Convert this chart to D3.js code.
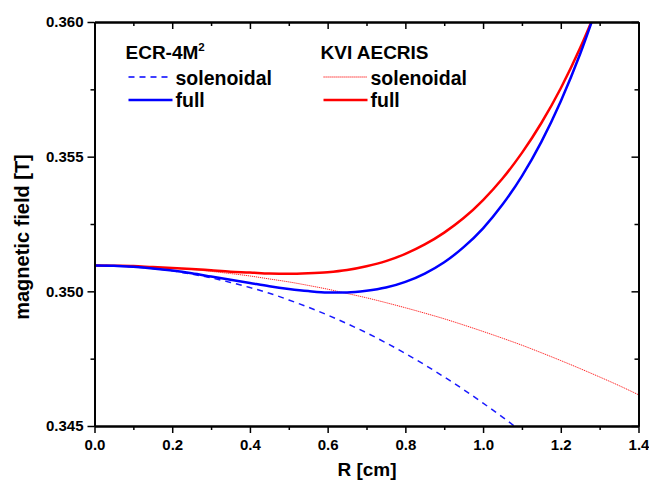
<!DOCTYPE html>
<html>
<head>
<meta charset="utf-8">
<script src="https://cdn.jsdelivr.net/npm/d3@7"></script>
<style>
  html, body { margin: 0; padding: 0; background: #fff; }
  svg { display: block; font-family: "Liberation Sans", Arial, Helvetica, sans-serif; font-weight: bold; }
</style>
</head>
<body>
<svg id="chart" width="649" height="485"></svg>
<script>
// Radius samples (cm)
const radius = [0, 0.05, 0.1, 0.15, 0.2, 0.25, 0.3, 0.35, 0.4, 0.45, 0.5, 0.55, 0.6, 0.65, 0.7,
                0.75, 0.8, 0.85, 0.9, 0.95, 1.0, 1.05, 1.1, 1.15, 1.2, 1.25, 1.3, 1.35, 1.4];

// ECR-4M² field magnitude (T)
const ecrSolenoidal = [0.35096, 0.35095, 0.35091, 0.35085, 0.35076, 0.35064, 0.35050, 0.35033, 0.35014,
                       0.34993, 0.34968, 0.34941, 0.34912, 0.34880, 0.34846, 0.34809, 0.34769, 0.34727,
                       0.34682, 0.34635, 0.34585, 0.34533, 0.34478];
const ecrFull = [0.35096, 0.35095, 0.35091, 0.35085, 0.35077, 0.35067, 0.35055, 0.35043, 0.35031,
                 0.35019, 0.35009, 0.35001, 0.34996, 0.34996, 0.35002, 0.35014, 0.35035, 0.35066,
                 0.35108, 0.35164, 0.35234, 0.35322, 0.35428, 0.35555, 0.35706, 0.35882, 0.36086];

// KVI AECRIS field magnitude (T)
const kviSolenoidal = [0.35096, 0.35095, 0.35094, 0.35090, 0.35086, 0.35081, 0.35074, 0.35066, 0.35057,
                       0.35046, 0.35035, 0.35022, 0.35008, 0.34992, 0.34976, 0.34958, 0.34939, 0.34919,
                       0.34898, 0.34875, 0.34851, 0.34826, 0.34800, 0.34772, 0.34743, 0.34713, 0.34682,
                       0.34650, 0.34616];
const kviFull = [0.35096, 0.35095, 0.35094, 0.35090, 0.35087, 0.35083, 0.35078, 0.35073, 0.35070,
                 0.35066, 0.35065, 0.35067, 0.35071, 0.35079, 0.35093, 0.35112, 0.35139, 0.35174,
                 0.35218, 0.35272, 0.35339, 0.35419, 0.35514, 0.35625, 0.35754, 0.35904, 0.36075];

const xTicks = [0.0, 0.2, 0.4, 0.6, 0.8, 1.0, 1.2, 1.4];
const xMinorTicks = [0.1, 0.3, 0.5, 0.7, 0.9, 1.1, 1.3];
const yTicks = [0.345, 0.350, 0.355, 0.360];
const yMinorTicks = [0.3475, 0.3525, 0.3575];

const svg = d3.select("#chart");
const m = { left: 94.5, right: 638.5, top: 22, bottom: 426 };

const x = d3.scaleLinear().domain([0, 1.4]).range([m.left, m.right]);
const y = d3.scaleLinear().domain([0.345, 0.360]).range([m.bottom, m.top]);

svg.append("defs").append("clipPath").attr("id", "plotClip")
  .append("rect")
  .attr("x", m.left).attr("y", m.top)
  .attr("width", m.right - m.left).attr("height", m.bottom - m.top);

const line = d3.line().x(d => x(d[0])).y(d => y(d[1])).curve(d3.curveMonotoneX);
const pairs = vals => vals.map((v, i) => [radius[i], v]);

const curves = svg.append("g").attr("clip-path", "url(#plotClip)");
curves.append("path").datum(pairs(kviSolenoidal)).attr("d", line)
  .attr("fill", "none").attr("stroke", "#ff2020").attr("stroke-width", 1)
  .attr("stroke-dasharray", "1.2,0.8");
curves.append("path").datum(pairs(ecrSolenoidal)).attr("d", line)
  .attr("fill", "none").attr("stroke", "#1a1aff").attr("stroke-width", 1.5)
  .attr("stroke-dasharray", "6,5");
curves.append("path").datum(pairs(kviFull)).attr("d", line)
  .attr("fill", "none").attr("stroke", "#ff0000").attr("stroke-width", 2.5);
curves.append("path").datum(pairs(ecrFull)).attr("d", line)
  .attr("fill", "none").attr("stroke", "#0000ff").attr("stroke-width", 2.5);

// Axes: outward labelled ticks on bottom/left, inward mirror ticks on top/right
const axisStyle = g => {
  g.selectAll("path.domain").attr("stroke", "#000").attr("stroke-width", 1.8);
  g.selectAll(".tick line").attr("stroke", "#000").attr("stroke-width", 1.5);
  g.selectAll(".tick text").attr("font-size", 15).attr("font-weight", "bold")
    .attr("font-family", "'Liberation Sans', Arial, sans-serif").attr("fill", "#000");
};

svg.append("g").attr("transform", `translate(0,${m.bottom})`)
  .call(d3.axisBottom(x).tickValues(xTicks).tickFormat(d3.format(".1f"))
    .tickSizeInner(7).tickSizeOuter(0).tickPadding(6))
  .call(axisStyle);
svg.append("g").attr("transform", `translate(0,${m.bottom})`)
  .call(d3.axisBottom(x).tickValues(xMinorTicks).tickFormat("").tickSize(4).tickSizeOuter(0))
  .call(axisStyle);

svg.append("g").attr("transform", `translate(0,${m.top})`)
  .call(d3.axisBottom(x).tickValues(xTicks).tickFormat("").tickSizeInner(7).tickSizeOuter(0))
  .call(axisStyle);
svg.append("g").attr("transform", `translate(0,${m.top})`)
  .call(d3.axisBottom(x).tickValues(xMinorTicks).tickFormat("").tickSize(4).tickSizeOuter(0))
  .call(axisStyle);

svg.append("g").attr("transform", `translate(${m.left},0)`)
  .call(d3.axisLeft(y).tickValues(yTicks).tickFormat(d3.format(".3f"))
    .tickSizeInner(7).tickSizeOuter(0).tickPadding(4))
  .call(axisStyle);
svg.append("g").attr("transform", `translate(${m.left},0)`)
  .call(d3.axisLeft(y).tickValues(yMinorTicks).tickFormat("").tickSize(4).tickSizeOuter(0))
  .call(axisStyle);

svg.append("g").attr("transform", `translate(${m.right},0)`)
  .call(d3.axisLeft(y).tickValues(yTicks).tickFormat("").tickSizeInner(7).tickSizeOuter(0))
  .call(axisStyle);
svg.append("g").attr("transform", `translate(${m.right},0)`)
  .call(d3.axisLeft(y).tickValues(yMinorTicks).tickFormat("").tickSize(4).tickSizeOuter(0))
  .call(axisStyle);

// Axis titles
svg.append("text").attr("x", 367).attr("y", 476)
  .attr("text-anchor", "middle").attr("font-size", 19).text("R [cm]");
svg.append("text").attr("transform", "translate(29,237) rotate(-90)")
  .attr("text-anchor", "middle").attr("font-size", 20).text("magnetic field [T]");

// Legend
const legendGroups = [
  { title: "ECR-4M", sup: "2", x: 125.5, color: "#0000ff", dashed: "6,5", dashedW: 1.5 },
  { title: "KVI AECRIS", sup: null, x: 320.5, color: "#ff0000", dashed: "1.2,0.8", dashedW: 1 }
];
legendGroups.forEach(gdef => {
  const g = svg.append("g");
  const t = g.append("text").attr("x", gdef.x).attr("y", 59).attr("font-size", 19).text(gdef.title);
  if (gdef.sup) {
    t.append("tspan").attr("font-size", 11.5).attr("dy", -8).text(gdef.sup);
  }
  g.append("line").attr("x1", gdef.x + 3).attr("x2", gdef.x + 47).attr("y1", 77).attr("y2", 77)
    .attr("stroke", gdef.color).attr("stroke-width", gdef.dashedW).attr("stroke-dasharray", gdef.dashed);
  g.append("text").attr("x", gdef.x + 50).attr("y", 85).attr("font-size", 19.5).text("solenoidal");
  g.append("line").attr("x1", gdef.x + 3).attr("x2", gdef.x + 47).attr("y1", 100).attr("y2", 100)
    .attr("stroke", gdef.color).attr("stroke-width", 2.5);
  g.append("text").attr("x", gdef.x + 50).attr("y", 107).attr("font-size", 19.5).text("full");
});
</script>
</body>
</html>
